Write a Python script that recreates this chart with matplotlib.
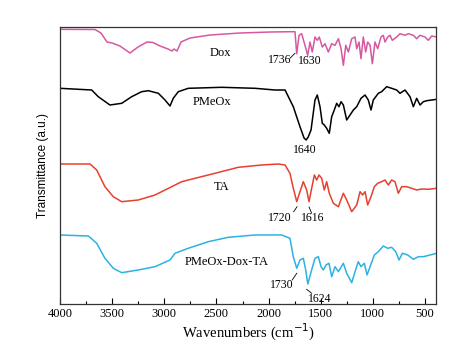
import matplotlib
matplotlib.use("Agg")
from matplotlib import pyplot as plt
from matplotlib.ticker import MultipleLocator

# wavenumbers (cm-1) and transmittance (a.u.)
dox_wn = [4000, 3664, 3607, 3549, 3501, 3425, 3329, 3252, 3166, 3108, 3041, 2964, 2926, 2907,
          2878, 2840, 2753, 2562, 2274, 1986, 1795, 1747, 1730, 1708, 1683, 1651, 1625, 1603,
          1581, 1555, 1533, 1514, 1485, 1459, 1427, 1395, 1363, 1331, 1305, 1283, 1260, 1235,
          1203, 1171, 1155, 1133, 1114, 1092, 1069, 1050, 1027, 1005, 980, 954, 922, 900, 884,
          858, 836, 814, 772, 740, 692, 660, 612, 580, 548, 500, 468, 436, 388]
dox_t = [274.7, 274.5, 271, 262, 261, 258, 251, 257, 262, 261.5, 258, 255, 253, 255,
         253, 262, 266, 269, 271, 272, 272.3, 272.3, 250.3, 268.7, 270.3, 258.7, 248.7, 262,
         252, 267, 263.7, 267, 257, 260.3, 252, 260.3, 258.7, 265.3, 255.3, 238.7, 258.7, 252,
         265.3, 267, 255.3, 262, 245.3, 267, 252, 262, 258.7, 240.3, 262, 255.3, 267, 268.7, 262,
         267, 268.7, 263.7, 267, 270.3, 268.7, 270.3, 268.7, 265.3, 268.7, 267, 263.7, 268, 267]

pmeox_wn = [4000, 3696, 3633, 3521, 3408, 3313, 3217, 3153, 3057, 2993, 2945, 2914, 2866, 2770,
            2450, 2130, 1938, 1842, 1763, 1699, 1660, 1640, 1620, 1593, 1555, 1533, 1507, 1485,
            1466, 1443, 1418, 1395, 1370, 1347, 1325, 1305, 1283, 1251, 1219, 1187, 1155, 1114,
            1075, 1044, 1018, 996, 948, 916, 868, 820, 772, 740, 692, 644, 612, 580, 548, 516,
            484, 436, 388]
pmeox_t = [215.7, 214, 207.3, 199, 200.7, 207.3, 212.3, 213.3, 210.7, 204, 198, 205.7, 212.3, 215.7,
           216.7, 215.7, 214, 214, 197.3, 177.3, 166, 164, 167, 174, 204, 209, 197.3, 180.7,
           179, 175.7, 170.7, 187.3, 194, 200.7, 197.3, 202.3, 199, 184, 189, 194, 197.3, 205.7,
           209, 204, 194, 204, 210.7, 212.3, 217.3, 215.7, 214, 210.7, 214, 207.3, 197.3, 205.7,
           199, 202.3, 203.3, 204, 204.7]

ta_wn = [4000, 3712, 3648, 3569, 3489, 3408, 3249, 3089, 2929, 2833, 2705, 2514, 2290, 2066,
         1907, 1842, 1795, 1763, 1730, 1699, 1667, 1635, 1612, 1587, 1561, 1539, 1516, 1491,
         1466, 1443, 1418, 1379, 1331, 1283, 1251, 1203, 1155, 1123, 1098, 1075, 1050, 1018,
         986, 954, 916, 884, 852, 820, 788, 756, 724, 676, 628, 580, 532, 468, 388]
ta_t = [140, 140, 134, 117.3, 107.3, 102.3, 104, 109, 117.3, 122.3, 125.7, 130.7, 136.7, 139,
        140, 139, 130.7, 115.7, 102.3, 112.3, 122.3, 114, 102.3, 115.7, 129, 124, 129, 125.7,
        114, 122.3, 110.7, 100.7, 97.3, 110.7, 104, 92.3, 99, 112.3, 109, 112.3, 99, 107.3,
        117.3, 120.7, 122.3, 124, 119, 124, 122.3, 110.7, 117.3, 117.3, 115.7, 114, 115, 114.7, 115.7]

mix_wn = [4000, 3728, 3648, 3569, 3489, 3408, 3249, 3089, 2945, 2897, 2770, 2578, 2386, 2130,
          1874, 1795, 1763, 1730, 1699, 1667, 1644, 1624, 1587, 1555, 1523, 1497, 1475, 1449,
          1421, 1395, 1363, 1331, 1283, 1251, 1203, 1171, 1140, 1114, 1082, 1056, 1027, 986,
          948, 900, 858, 820, 781, 749, 717, 666, 612, 564, 516, 452, 388]
mix_t = [69, 68, 60.7, 45.7, 35.7, 31.3, 34, 37.3, 44, 50.7, 55.7, 62.3, 66.7, 69,
         69, 65.7, 47.3, 35.7, 44, 45.7, 34, 20, 34, 45.7, 47.3, 37.3, 34, 39,
         40.7, 27.3, 37.3, 32.3, 40.7, 30.7, 21.3, 32.3, 42.3, 37.3, 40.7, 29, 37.3, 49,
         52.3, 58, 55.7, 56.7, 52.3, 44, 50.7, 49, 44.7, 47.3, 47.3, 49, 50.7]

fig = plt.figure(figsize=(4.65, 3.49), dpi=100)
ax = fig.add_axes([0.129, 0.129, 0.8086, 0.7936])

ax.plot(dox_wn, dox_t, color="#d6599f", lw=1.1)
ax.plot(pmeox_wn, pmeox_t, color="black", lw=1.1)
ax.plot(ta_wn, ta_t, color="#e8402e", lw=1.1)
ax.plot(mix_wn, mix_t, color="#2cb2e4", lw=1.1)

ax.set_xlim(4000, 395)
ax.set_ylim(0, 277)

serif = "Liberation Serif"
txt = dict(family=serif, fontsize=9, ha="center", va="center")
num = dict(family=serif, fontsize=8.5, ha="center", va="center")

# sample names
ax.text(2466, 250.7, "Dox", **txt)
ax.text(2546, 202.3, "PMeOx", **txt)
ax.text(2450, 117.3, "TA", **txt)
ax.text(2402, 42.3, "PMeOx-Dox-TA", **txt)

# peak labels with small leader lines
ax.text(1890, 244, "1736", **num)
ax.plot([1795, 1747], [245.7, 250.7], color="black", lw=0.6)
ax.text(1603, 243, "1630", **num)
ax.text(1651, 154, "1640", **num)
ax.text(1890, 85.7, "1720", **num)
ax.plot([1759, 1727], [92.3, 97.3], color="black", lw=0.6)
ax.text(1581, 85.7, "1616", **num)
ax.plot([1587, 1612], [90.7, 97], color="black", lw=0.6)
ax.text(1874, 19, "1730", **num)
ax.plot([1773, 1730], [24, 30.7], color="black", lw=0.6)
ax.text(1507, 4.7, "1624", **num)
ax.plot([1635, 1587], [14.7, 10.7], color="black", lw=0.6)

ax.xaxis.set_major_locator(MultipleLocator(500))
ax.xaxis.set_minor_locator(MultipleLocator(250))
ax.tick_params(axis="x", which="both", direction="in", top=False, labelsize=9, pad=3)
ax.tick_params(axis="x", which="major", length=4, width=0.8)
ax.tick_params(axis="x", which="minor", length=2.5, width=0.8)
ax.tick_params(axis="y", left=False, labelleft=False)
for lab in ax.get_xticklabels():
    lab.set_family(serif)
for sp in ax.spines.values():
    sp.set_color("#333333")
    sp.set_linewidth(0.9)

ax.set_xlabel("Wavenumbers (cm$^{-1}$)", family=serif, fontsize=10.5, labelpad=1)
ax.set_ylabel("Transmittance (a.u.)", family="Liberation Sans", fontsize=8.5, labelpad=8)

fig.savefig("out.png", dpi=100)
